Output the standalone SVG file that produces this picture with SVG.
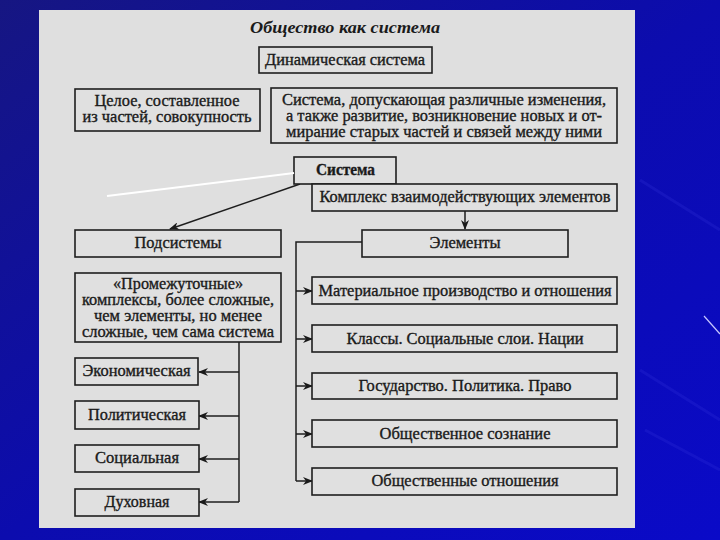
<svg xmlns="http://www.w3.org/2000/svg" width="720" height="540" viewBox="0 0 720 540">
  <defs>
    <linearGradient id="bg" x1="0" y1="0" x2="1" y2="1">
      <stop offset="0" stop-color="#161682"/>
      <stop offset="0.5" stop-color="#0c0cae"/>
      <stop offset="1" stop-color="#0a0ac8"/>
    </linearGradient>
    <marker id="ah" viewBox="0 0 10 8" refX="9" refY="4" markerWidth="10" markerHeight="8" markerUnits="userSpaceOnUse" orient="auto">
      <path d="M0,0 L10,4 L0,8 L3,4 z" fill="#1a1a1a"/>
    </marker>
    <style>
      .box { fill: #e0e0e0; stroke: #1e1e1e; stroke-width: 1.6; }
      .t { font-family: "Liberation Serif", "Times New Roman", serif; font-size: 16px; fill: #1a1a1a; stroke: #1a1a1a; stroke-width: 0.35; text-anchor: middle; }
      .title { font-family: "Liberation Serif", "Times New Roman", serif; font-size: 17px; font-weight: bold; font-style: italic; fill: #1a1a1a; text-anchor: middle; }
      .ln { fill: none; stroke: #1e1e1e; stroke-width: 1.5; }
      .arr { fill: none; stroke: #1e1e1e; stroke-width: 1.5; marker-end: url(#ah); }
    </style>
  </defs>

  <rect x="0" y="0" width="720" height="540" fill="url(#bg)"/>
  <g stroke="#3a3ae0" stroke-opacity="0.22" stroke-width="3" fill="none">
    <line x1="640" y1="370" x2="720" y2="420"/>
    <line x1="645" y1="430" x2="720" y2="470"/>
    <line x1="640" y1="180" x2="720" y2="230"/>
  </g>
  <line x1="704" y1="316" x2="720" y2="334" stroke="#c8c8ff" stroke-width="1.2"/>

  <rect x="39" y="10" width="596" height="518" fill="#dfdfdf"/>

  <text class="title" x="345" y="33" textLength="190" lengthAdjust="spacingAndGlyphs">Общество как система</text>

  <g id="connectors">
    <line class="arr" x1="300" y1="184" x2="170" y2="229"/>
    <line class="arr" x1="465" y1="211" x2="465" y2="229"/>
    <polyline class="ln" points="362,242 296,242 296,481"/>
    <line class="arr" x1="296" y1="291" x2="312" y2="291"/>
    <line class="arr" x1="296" y1="339" x2="312" y2="339"/>
    <line class="arr" x1="296" y1="386" x2="312" y2="386"/>
    <line class="arr" x1="296" y1="434" x2="312" y2="434"/>
    <line class="arr" x1="296" y1="481" x2="312" y2="481"/>
    <polyline class="ln" points="239,342 239,502"/>
    <line class="arr" x1="239" y1="372" x2="199" y2="372"/>
    <line class="arr" x1="239" y1="416" x2="199" y2="416"/>
    <line class="arr" x1="239" y1="459" x2="199" y2="459"/>
    <line class="arr" x1="239" y1="502" x2="199" y2="502"/>
  </g>

  <g id="dynamic">
    <rect class="box" x="259" y="47" width="173" height="26"/>
    <text class="t" x="345" y="65" textLength="160" lengthAdjust="spacingAndGlyphs">Динамическая система</text>
  </g>
  <g id="whole">
    <rect class="box" x="75" y="89" width="185" height="42"/>
    <text class="t" x="167" y="106" textLength="145" lengthAdjust="spacingAndGlyphs">Целое, составленное</text>
    <text class="t" x="167" y="122" textLength="169" lengthAdjust="spacingAndGlyphs">из частей, совокупность</text>
  </g>
  <g id="changes">
    <rect class="box" x="271" y="88" width="346" height="55"/>
    <text class="t" x="444" y="105" textLength="324" lengthAdjust="spacingAndGlyphs">Система, допускающая различные изменения,</text>
    <text class="t" x="444" y="121" textLength="316" lengthAdjust="spacingAndGlyphs">а также развитие, возникновение новых и от-</text>
    <text class="t" x="444" y="137" textLength="316" lengthAdjust="spacingAndGlyphs">мирание старых частей и связей между ними</text>
  </g>
  <g id="system">
    <rect class="box" x="294" y="157" width="102" height="27"/>
    <text class="t" x="345.5" y="175" textLength="59" lengthAdjust="spacingAndGlyphs" style="font-weight:bold">Система</text>
  </g>
  <g id="complex">
    <rect class="box" x="312" y="184" width="305" height="27"/>
    <text class="t" x="465" y="202" textLength="291" lengthAdjust="spacingAndGlyphs">Комплекс взаимодействующих элементов</text>
  </g>
  <g id="subsystems">
    <rect class="box" x="75" y="230" width="206" height="27"/>
    <text class="t" x="178" y="248" textLength="87" lengthAdjust="spacingAndGlyphs">Подсистемы</text>
  </g>
  <g id="elements">
    <rect class="box" x="362" y="230" width="206" height="27"/>
    <text class="t" x="465" y="248" textLength="71" lengthAdjust="spacingAndGlyphs">Элементы</text>
  </g>
  <g id="intermediate">
    <rect class="box" x="75" y="273" width="206" height="69"/>
    <text class="t" x="178" y="289" textLength="130" lengthAdjust="spacingAndGlyphs">«Промежуточные»</text>
    <text class="t" x="178" y="305" textLength="192" lengthAdjust="spacingAndGlyphs">комплексы, более сложные,</text>
    <text class="t" x="178" y="321" textLength="168" lengthAdjust="spacingAndGlyphs">чем элементы, но менее</text>
    <text class="t" x="178" y="337" textLength="192" lengthAdjust="spacingAndGlyphs">сложные, чем сама система</text>
  </g>
  <g id="economic">
    <rect class="box" x="75" y="358" width="123" height="27"/>
    <text class="t" x="136.5" y="376" textLength="108" lengthAdjust="spacingAndGlyphs">Экономическая</text>
  </g>
  <g id="political">
    <rect class="box" x="75" y="401" width="124" height="28"/>
    <text class="t" x="137" y="420" textLength="98" lengthAdjust="spacingAndGlyphs">Политическая</text>
  </g>
  <g id="social">
    <rect class="box" x="75" y="445" width="124" height="27"/>
    <text class="t" x="137" y="463" textLength="84" lengthAdjust="spacingAndGlyphs">Социальная</text>
  </g>
  <g id="spiritual">
    <rect class="box" x="75" y="489" width="124" height="27"/>
    <text class="t" x="137" y="507" textLength="65" lengthAdjust="spacingAndGlyphs">Духовная</text>
  </g>
  <g id="material">
    <rect class="box" x="312" y="277" width="305" height="27"/>
    <text class="t" x="465" y="296" textLength="293" lengthAdjust="spacingAndGlyphs">Материальное производство и отношения</text>
  </g>
  <g id="classes">
    <rect class="box" x="312" y="325" width="305" height="27"/>
    <text class="t" x="465" y="344" textLength="237" lengthAdjust="spacingAndGlyphs">Классы. Социальные слои. Нации</text>
  </g>
  <g id="state">
    <rect class="box" x="312" y="373" width="305" height="26"/>
    <text class="t" x="465" y="391" textLength="213" lengthAdjust="spacingAndGlyphs">Государство. Политика. Право</text>
  </g>
  <g id="consciousness">
    <rect class="box" x="312" y="420" width="305" height="27"/>
    <text class="t" x="465" y="439" textLength="171" lengthAdjust="spacingAndGlyphs">Общественное сознание</text>
  </g>
  <g id="relations">
    <rect class="box" x="312" y="468" width="305" height="27"/>
    <text class="t" x="465" y="486" textLength="187" lengthAdjust="spacingAndGlyphs">Общественные отношения</text>
  </g>

  <line x1="294" y1="173" x2="107" y2="196" stroke="#ffffff" stroke-width="2"/>
</svg>
